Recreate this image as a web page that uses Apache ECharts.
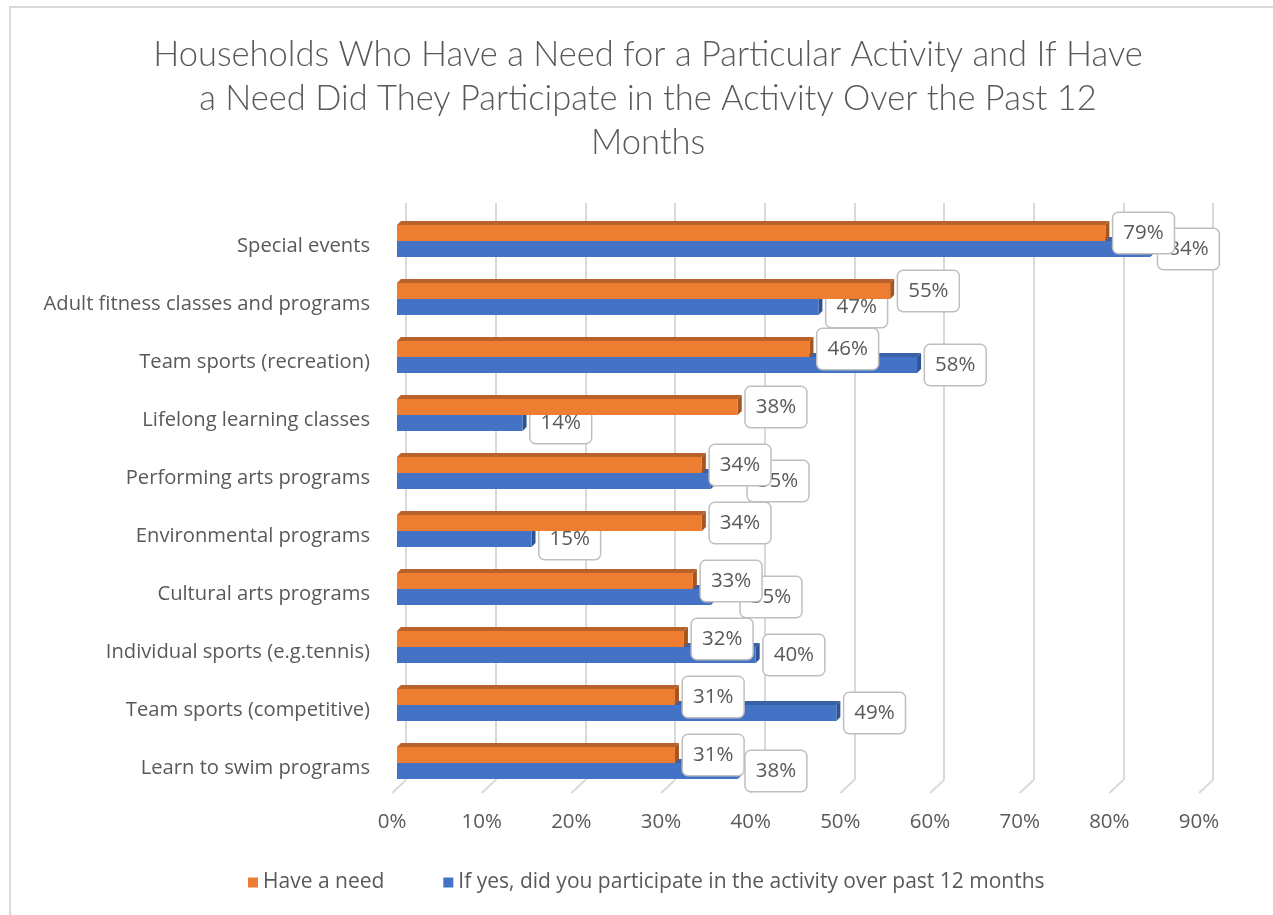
<!DOCTYPE html>
<html>
<head>
<meta charset="utf-8">
<title>Households Who Have a Need for a Particular Activity</title>
<script src="https://cdn.jsdelivr.net/npm/echarts@6/dist/echarts.min.js"></script>
<style>
  html, body { margin: 0; padding: 0; background: #fff; }
  #chart { width: 1273px; height: 915px; }
</style>
</head>
<body>
<div id="chart"></div>
<script>
// Activities, listed top to bottom
const categories = [
  'Special events',
  'Adult fitness classes and programs',
  'Team sports (recreation)',
  'Lifelong learning classes',
  'Performing arts programs',
  'Environmental programs',
  'Cultural arts programs',
  'Individual sports (e.g.tennis)',
  'Team sports (competitive)',
  'Learn to swim programs'
];
// Percent of households with a need
const haveNeed = [79, 55, 46, 38, 34, 34, 33, 32, 31, 31];
// Percent of those who participated over the past 12 months
const participated = [84, 47, 58, 14, 35, 15, 35, 40, 49, 38];
// Percent axis ticks
const axisTicks = [0, 10, 20, 30, 40, 50, 60, 70, 80, 90];

const seriesNames = ['Have a need', 'If yes, did you participate in the activity over past 12 months'];
const FONT = '"Open Sans"';
const FS = 20.5;
const TEXT = '#595959';
const ORANGE = '#ED7D31', ORANGE_TOP = '#B9612A', ORANGE_SIDE = '#A5561F';
const BLUE = '#4472C4', BLUE_TOP = '#3A61A8', BLUE_SIDE = '#2F5293';
const DEPTH = 4;     // bar depth offset
const BAR = 16;      // bar thickness
// extra horizontal shift (px) of a few participation callouts, keyed by row
const participatedLabelShift = { 4: 29, 6: 22 };

const chart = echarts.init(document.getElementById('chart'), null, { renderer: 'canvas' });

// depth faces (top + right side) for each bar, drawn behind the front faces
function depthSeries(values, slot, topColor, sideColor) {
  return {
    type: 'custom',
    xAxisIndex: 2, yAxisIndex: 2,
    z: 1, silent: true,
    data: values.map((v, i) => [v, i]),
    renderItem: function (params, api) {
      const end = api.coord([api.value(0), api.value(1)]);
      const start = api.coord([0, api.value(1)]);
      const yTop = slot === 0 ? end[1] - BAR : end[1];
      const yBot = yTop + BAR;
      const x0 = start[0], x1 = end[0], d = DEPTH;
      return {
        type: 'group',
        children: [
          { type: 'polygon', shape: { points: [[x0, yTop], [x0 + d, yTop - d], [x1 + d, yTop - d], [x1, yTop]] }, style: { fill: topColor } },
          { type: 'polygon', shape: { points: [[x1, yTop], [x1 + d, yTop - d], [x1 + d, yBot - d], [x1, yBot]] }, style: { fill: sideColor } }
        ]
      };
    }
  };
}

function labelStyle() {
  return {
    show: true,
    position: 'right',
    distance: 8,
    formatter: '{c}%',
    fontFamily: FONT,
    fontSize: FS,
    color: TEXT,
    backgroundColor: '#fff',
    borderColor: '#BFBFBF',
    borderWidth: 1.5,
    borderRadius: 5,
    padding: [10, 10, 9, 10]
  };
}

const option = {
  backgroundColor: '#fff',
  animation: false,
  title: {
    text: 'Households Who Have a Need for a Particular Activity and If Have\na Need Did They Participate in the Activity Over the Past 12\nMonths',
    left: 643,
    textAlign: 'center',
    top: 28,
    textStyle: { fontFamily: 'Lato', fontSize: 34.5, fontWeight: 300, color: TEXT, lineHeight: 44 }
  },
  legend: {
    data: seriesNames,
    left: 248,
    top: 872,
    padding: 0,
    icon: 'rect',
    itemWidth: 10,
    itemHeight: 10,
    itemGap: 59,
    textStyle: { fontFamily: FONT, fontSize: 21, color: TEXT }
  },
  graphic: [{
    type: 'rect',
    shape: { x: 10, y: 7, width: 1300, height: 950 },
    style: { fill: 'none', stroke: '#D9D9D9', lineWidth: 2 },
    silent: true
  }],
  grid: [
    // back wall (gridlines)
    { left: 406, right: 60, top: 203, bottom: 135 },
    // front plane (tick labels)
    { left: 392, right: 74, top: 203, bottom: 122 },
    // bars
    { left: 397, right: 69, top: 212, bottom: 123 }
  ],
  xAxis: [
    { gridIndex: 0, type: 'value', min: 0, max: 90, interval: 10,
      axisLabel: { show: false }, axisLine: { show: false }, axisTick: { show: false },
      splitLine: { show: true, lineStyle: { color: '#D9D9D9', width: 2 } } },
    { gridIndex: 1, type: 'value', min: 0, max: 90, interval: 10,
      axisLabel: { formatter: '{value}%', fontFamily: FONT, fontSize: FS, color: TEXT, margin: 19 },
      axisLine: { show: false }, axisTick: { show: false }, splitLine: { show: false } },
    { gridIndex: 2, type: 'value', min: 0, max: 90, interval: 10,
      axisLabel: { show: false }, axisLine: { show: false }, axisTick: { show: false }, splitLine: { show: false } }
  ],
  yAxis: [
    { gridIndex: 0, type: 'value', min: 0, max: 1, show: false },
    { gridIndex: 1, type: 'value', min: 0, max: 1, show: false },
    { gridIndex: 2, type: 'category', data: categories, inverse: true,
      axisLine: { show: false }, axisTick: { show: false },
      axisLabel: { fontFamily: FONT, fontSize: 20.2, color: TEXT, margin: 27,
                   verticalAlign: 'top', lineHeight: 10 } }
  ],
  series: [
    {
      name: seriesNames[0],
      type: 'bar',
      xAxisIndex: 2, yAxisIndex: 2,
      data: haveNeed,
      barWidth: BAR,
      barGap: '0%',
      z: 3,
      itemStyle: { color: ORANGE },
      label: labelStyle()
    },
    {
      name: seriesNames[1],
      type: 'bar',
      xAxisIndex: 2, yAxisIndex: 2,
      data: participated.map((v, i) => participatedLabelShift[i]
        ? { value: v, label: { offset: [participatedLabelShift[i], 0] } }
        : v),
      barWidth: BAR,
      barGap: '0%',
      z: 2,
      itemStyle: { color: BLUE },
      label: labelStyle()
    },
    depthSeries(participated, 1, BLUE_TOP, BLUE_SIDE),
    depthSeries(haveNeed, 0, ORANGE_TOP, ORANGE_SIDE),
    // slanted floor lines from the back wall to the front plane
    {
      type: 'custom',
      xAxisIndex: 0, yAxisIndex: 0,
      z: 0, silent: true,
      data: axisTicks.map(t => [t]),
      renderItem: function (params, api) {
        const p = api.coord([api.value(0), 0]);
        return {
          type: 'line',
          shape: { x1: p[0], y1: p[1], x2: p[0] - 14, y2: p[1] + 13 },
          style: { stroke: '#D9D9D9', lineWidth: 2 }
        };
      }
    }
  ]
};

chart.setOption(option);
</script>
</body>
</html>
